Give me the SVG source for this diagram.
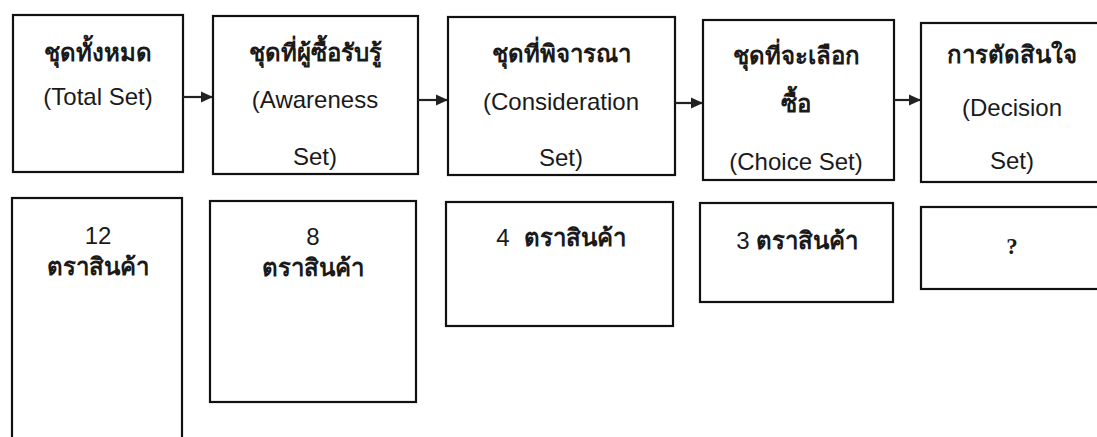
<svg xmlns="http://www.w3.org/2000/svg" width="1097" height="437" viewBox="0 0 1097 437">
<style>
.box{fill:#fff;stroke:#111;stroke-width:2.2}
.th{font-family:"Liberation Sans","Noto Sans",sans-serif;font-size:24px;font-weight:bold;fill:#1a1a1a;text-anchor:middle}
.en{font-family:"Liberation Sans",Arial,sans-serif;font-size:24px;fill:#1a1a1a;text-anchor:middle}
.q{font-family:"Liberation Serif",serif;font-size:23px;font-weight:bold;fill:#1a1a1a;text-anchor:middle}
.conn{stroke:#222;stroke-width:2.2;fill:none}
</style>
<defs>
<marker id="ah" markerWidth="12" markerHeight="12" refX="11" refY="6" orient="auto" markerUnits="userSpaceOnUse">
<path d="M0,0.5 L12,6 L0,11.5 z" fill="#222"/>
</marker>
</defs>
<rect width="1097" height="437" fill="#fff"/>
<g id="total-set">
<rect class="box" x="13" y="15" width="170" height="157"/>
<text class="th" x="98" y="61">ชุดทั้งหมด</text>
<text class="en" x="98" y="105">(Total Set)</text>
</g>
<g id="awareness-set">
<rect class="box" x="213" y="16" width="205" height="158"/>
<text class="th" x="315" y="61">ชุดที่ผู้ซื้อรับรู้</text>
<text class="en" x="315" y="108">(Awareness</text>
<text class="en" x="315" y="165">Set)</text>
</g>
<g id="consideration-set">
<rect class="box" x="448" y="17" width="227" height="158"/>
<text class="th" x="561" y="62">ชุดที่พิจารณา</text>
<text class="en" x="561" y="110">(Consideration</text>
<text class="en" x="561" y="166">Set)</text>
</g>
<g id="choice-set">
<rect class="box" x="703" y="20" width="191" height="160"/>
<text class="th" x="796" y="64">ชุดที่จะเลือก</text>
<text class="th" x="796" y="112">ซื้อ</text>
<text class="en" x="796" y="170">(Choice Set)</text>
</g>
<g id="decision-set">
<rect class="box" x="921" y="23" width="190" height="159"/>
<text class="th" x="1012" y="63">การตัดสินใจ</text>
<text class="en" x="1012" y="116">(Decision</text>
<text class="en" x="1012" y="169">Set)</text>
</g>
<g id="total-count">
<rect class="box" x="12" y="198" width="170" height="260"/>
<text class="en" x="98" y="244">12</text>
<text class="th" x="98" y="275">ตราสินค้า</text>
</g>
<g id="awareness-count">
<rect class="box" x="210" y="201" width="206" height="201"/>
<text class="en" x="313" y="245">8</text>
<text class="th" x="313" y="276">ตราสินค้า</text>
</g>
<g id="consideration-count">
<rect class="box" x="446" y="202" width="227" height="124"/>
<text class="en" x="561" y="246" text-anchor="middle"><tspan>4</tspan><tspan dx="14" font-weight="bold">ตราสินค้า</tspan></text>
</g>
<g id="choice-count">
<rect class="box" x="700" y="203" width="193" height="99"/>
<text class="en" x="797" y="249"><tspan>3</tspan><tspan dx="6" font-weight="bold">ตราสินค้า</tspan></text>
</g>
<g id="decision-count">
<rect class="box" x="921" y="207" width="190" height="82"/>
<text class="q" x="1012" y="254">?</text>
</g>
<g id="connectors">
<line class="conn" x1="183" y1="97" x2="212" y2="97" marker-end="url(#ah)"/>
<line class="conn" x1="418" y1="100" x2="447" y2="100" marker-end="url(#ah)"/>
<line class="conn" x1="675" y1="103" x2="702" y2="103" marker-end="url(#ah)"/>
<line class="conn" x1="894" y1="100" x2="920" y2="100" marker-end="url(#ah)"/>
</g>
</svg>
